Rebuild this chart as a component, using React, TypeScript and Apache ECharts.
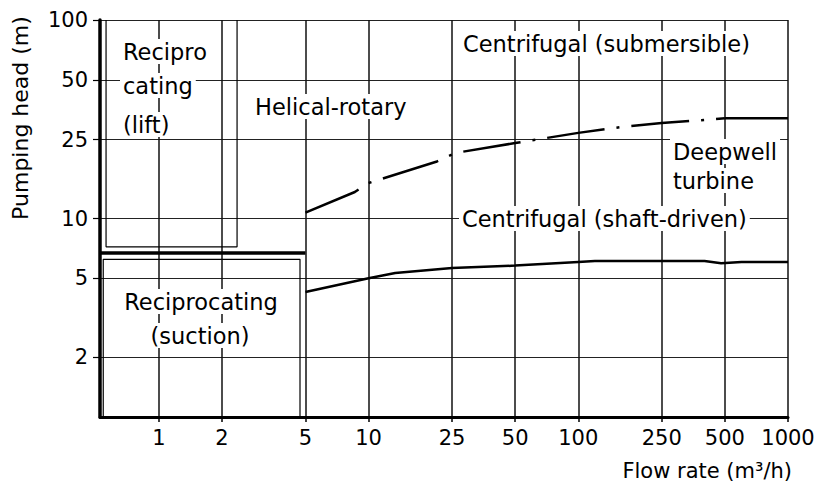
import { useEffect, useRef } from "react";
import * as echarts from "echarts";

// Axis ticks (log scales)
const flowTicks = [1, 2, 5, 10, 25, 50, 100, 250, 500, 1000];
const headTicks = [2, 5, 10, 25, 50, 100];
const flowMin = 0.524;
const flowMax = 1000;
const headMin = 1;
const headMax = 100;

// Upper boundary of centrifugal (shaft-driven) / deepwell turbine (dash-dot)
const deepwellX = [5, 8.6, 10, 21, 26, 50, 100, 160, 250, 410, 500];
const deepwellY = [10.7, 13.6, 15.1, 19.3, 21.4, 24, 27, 28.9, 30.3, 31.4, 32];
const deepwellFlatX = [500, 1000];
const deepwellFlatY = [32, 32];

// Lower boundary of centrifugal (shaft-driven) (solid)
const shaftLowX = [5, 10, 13.4, 25, 50, 100, 120, 250, 400, 480, 600, 1000];
const shaftLowY = [4.26, 5.0, 5.31, 5.63, 5.79, 6.04, 6.1, 6.1, 6.1, 5.95, 6.04, 6.04];

// Reciprocating (lift) box
const liftBoxX = [0.56, 0.56, 2.36, 2.36];
const liftBoxY = [100, 7.2, 7.2, 100];

// Reciprocating (suction) box
const suctionBoxX = [0.543, 0.543, 4.71, 4.71];
const suctionBoxY = [1, 6.23, 6.23, 1];

// Suction limit (thick line)
const suctionLimitX = [0.524, 5];
const suctionLimitY = [6.7, 6.7];

const FONT = "DejaVu Sans";

const pairs = (xs: number[], ys: number[]) => xs.map((x, i) => [x, ys[i]]);

const lineSeries = (name: string, xs: number[], ys: number[], width: number, type: any = "solid") => ({
  name,
  type: "line",
  data: pairs(xs, ys),
  symbol: "none",
  silent: true,
  z: 3,
  lineStyle: { color: "#000", width, type, cap: "butt" },
});

const label = (text: string, x: number, y: number, align: string = "left") => ({
  type: "text",
  x,
  y,
  z: 100,
  silent: true,
  style: {
    text,
    fill: "#000",
    font: `22.5px "${FONT}"`,
    align,
    verticalAlign: "middle",
    backgroundColor: "#fff",
    padding: [1, 3],
  },
});

export default function App() {
  const ref = useRef<HTMLDivElement>(null);
  useEffect(() => {
    const chart = echarts.init(ref.current!, null, { renderer: "svg" });
    const option: any = {
      animation: false,
      backgroundColor: "#fff",
      textStyle: { fontFamily: FONT },
      grid: { left: 100, right: 37, top: 20, bottom: 70 },
      xAxis: {
        type: "log",
        min: flowMin,
        max: flowMax,
        axisLine: { show: true, lineStyle: { color: "#000", width: 3 } },
        axisTick: { show: true, length: 5, customValues: flowTicks, lineStyle: { color: "#000", width: 1.5 } },
        axisLabel: {
          customValues: flowTicks,
          margin: 10,
          fontSize: 21,
          color: "#000",
          fontFamily: FONT,
          formatter: (v: number) => `${Math.round(v)}`,
        },
        splitLine: { show: true, lineStyle: { color: "#111", width: 1.5 } },
        minorTick: { show: false },
        minorSplitLine: { show: false },
      },
      yAxis: {
        type: "log",
        min: headMin,
        max: headMax,
        axisLine: { show: true, lineStyle: { color: "#000", width: 3.5 } },
        axisTick: { show: true, length: 7, customValues: headTicks, lineStyle: { color: "#000", width: 1.2 } },
        axisLabel: {
          customValues: headTicks,
          margin: 12,
          fontSize: 21,
          color: "#000",
          fontFamily: FONT,
          formatter: (v: number) => `${Math.round(v)}`,
        },
        splitLine: { show: true, lineStyle: { color: "#222", width: 1.1 } },
      },
      series: [
        lineSeries("Deepwell turbine boundary", deepwellX, deepwellY, 2.5, [58, 12, 3, 12]),
        lineSeries("Deepwell turbine boundary (flat)", deepwellFlatX, deepwellFlatY, 2.5),
        lineSeries("Centrifugal shaft-driven lower boundary", shaftLowX, shaftLowY, 2.5),
        lineSeries("Reciprocating lift", liftBoxX, liftBoxY, 1.2),
        lineSeries("Reciprocating suction", suctionBoxX, suctionBoxY, 1.2),
        lineSeries("Suction limit", suctionLimitX, suctionLimitY, 3.5),
      ],
      graphic: [
        label("Recipro", 120, 51.5),
        label("cating", 120, 85.5),
        label("(lift)", 120, 124.5),
        label("Helical-rotary", 252, 106.5),
        label("Centrifugal (submersible)", 460, 43.5),
        label("Deepwell", 670, 151.5),
        label("turbine", 670, 180.5),
        label("Centrifugal (shaft-driven)", 459, 218.5),
        label("Reciprocating", 201, 301.5, "center"),
        label("(suction)", 200, 335.5, "center"),
        {
          type: "text",
          x: 792,
          y: 471,
          z: 100,
          silent: true,
          style: { text: "Flow rate (m³/h)", fill: "#000", font: `21px "${FONT}"`, align: "right", verticalAlign: "middle" },
        },
        {
          type: "text",
          x: 20,
          y: 118,
          rotation: Math.PI / 2,
          z: 100,
          silent: true,
          style: { text: "Pumping head (m)", fill: "#000", font: `22px "${FONT}"`, align: "center", verticalAlign: "middle" },
        },
      ],
    };
    chart.setOption(option);
    return () => chart.dispose();
  }, []);
  return (
    <div
      ref={ref}
      style={{ position: "fixed", left: 0, top: 0, width: 825, height: 487, background: "#fff" }}
    />
  );
}
